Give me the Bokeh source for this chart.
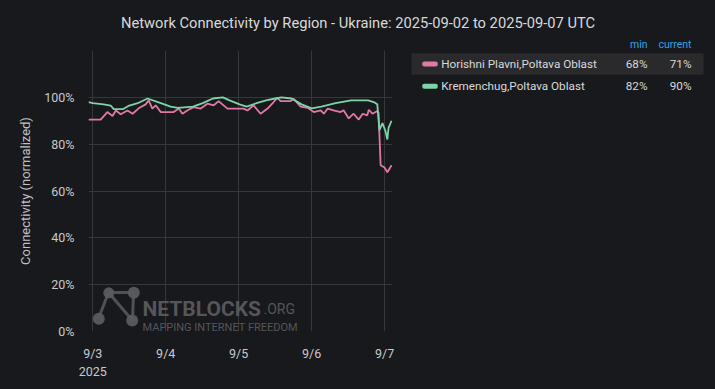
import pandas as pd
from bokeh.plotting import figure
from bokeh.layouts import column, row
from bokeh.models import FixedTicker, Range1d
from bokeh.core.properties import value
from bokeh.embed import file_html
from bokeh.resources import INLINE

TITLE = "Network Connectivity by Region - Ukraine: 2025-09-02 to 2025-09-07 UTC"
BASE = "2025-09-03 00:00"

# hours after 2025-09-03 00:00 UTC, connectivity %
red_hours = [-1.4, 2.6, 4.8, 6.5, 7.6, 9.2, 11.4, 13.1, 15.1, 17.4, 18.4, 19.6, 20.7, 22.4,
             26.6, 28.3, 29.5, 31.2, 33.2, 35.5, 37.7, 39.8, 41.4, 44.3, 49.6, 50.9, 52.9,
             55.2, 57.5, 59.5, 60.7, 61.8, 65.1, 66.1, 68.4, 70.7, 72.7, 75.0, 76.0, 77.3,
             79.2, 81.5, 82.5, 84.2, 85.8, 87.5, 88.8, 90.3, 90.8, 92.0, 93.6, 94.0, 94.7,
             96.0, 96.9, 97.6, 98.3]
red_vals = [90.5, 90.5, 93.7, 92.0, 94.4, 92.8, 94.4, 93.0, 95.3, 97.0, 98.7, 95.2, 96.6, 93.7,
            93.7, 95.2, 93.0, 94.5, 95.8, 95.2, 97.3, 96.6, 98.4, 95.2, 95.2, 94.4, 96.6,
            93.0, 95.2, 98.0, 99.8, 98.4, 98.4, 99.3, 96.0, 95.5, 93.7, 94.4, 93.0, 95.2,
            94.4, 93.7, 94.5, 91.0, 93.0, 90.5, 93.0, 92.3, 94.7, 93.0, 94.2, 93.5, 71.0,
            70.0, 68.0, 69.5, 71.0]

green_hours = [-1.4, 0.0, 3.6, 5.9, 6.9, 10.0, 12.0, 14.8, 18.0, 22.4, 25.6, 28.0, 33.0, 36.2,
               39.5, 42.8, 45.0, 48.3, 50.6, 53.9, 57.0, 60.0, 62.0, 65.4, 68.7, 72.0, 75.2,
               79.9, 85.0, 90.6, 92.4, 93.6, 94.3, 95.3, 96.3, 96.9, 97.3, 98.3]
green_vals = [98.0, 97.5, 97.0, 96.5, 95.0, 95.0, 96.5, 97.5, 99.5, 97.5, 96.0, 95.5, 96.0, 97.5,
              99.5, 100.0, 98.7, 97.0, 96.0, 97.5, 98.7, 99.5, 100.0, 99.5, 97.0, 95.3, 96.0,
              97.5, 98.7, 98.7, 98.0, 97.0, 86.0, 89.0, 85.5, 82.0, 87.0, 90.0]

series_names = ["Horishni Plavni,Poltava Oblast", "Kremenchug,Poltava Oblast"]
series_min = ["68%", "82%"]
series_current = ["71%", "90%"]
colors = ["#e07aa5", "#7fd3a8"]

x_tick_dates = ["2025-09-03", "2025-09-04", "2025-09-05", "2025-09-06", "2025-09-07"]
x_tick_labels = ["9/3\n2025", "9/4", "9/5", "9/6", "9/7"]
y_ticks = [0, 20, 40, 60, 80, 100, 120]
y_tick_labels = ["0%", "20%", "40%", "60%", "80%", "100%", ""]

BG = "#18191c"
TXT = "#d8d9da"
GRID = "#36373a"
FONT = "Roboto"

base = pd.Timestamp(BASE)
red_t = [base + pd.Timedelta(hours=h) for h in red_hours]
green_t = [base + pd.Timedelta(hours=h) for h in green_hours]

# ---- top strip: title + legend column headers (page-pixel coordinates)
tf = figure(width=715, height=50, x_range=Range1d(0, 715), y_range=Range1d(50, 0),
            toolbar_location=None, output_backend="svg", min_border=0,
            background_fill_color=BG, border_fill_color=BG, outline_line_color=None,
            title=None, x_axis_location=None, y_axis_location=None)
tf.grid.visible = False
tf.text(x=[357.5], y=[22], text=[TITLE], text_align="center", text_baseline="middle",
        text_font=value(FONT), text_font_size="14.7px", text_color=TXT)
tf.text(x=[647, 691], y=[44.3, 44.3], text=["min", "current"], text_baseline="middle",
        text_align="right", text_font=value(FONT), text_font_size="10.5px",
        text_color="#33a2e5")

# ---- chart
p = figure(width=400, height=339, x_axis_type="datetime", toolbar_location=None,
           output_backend="svg", background_fill_color=BG, border_fill_color=BG,
           outline_line_color=None, min_border_left=88, min_border_right=8,
           min_border_top=0, min_border_bottom=58, title=None)
p.x_range = Range1d(base + pd.Timedelta(hours=-1.4), base + pd.Timedelta(hours=98.6))
p.y_range = Range1d(0, 120)

xt = [pd.Timestamp(d).value / 1e6 for d in x_tick_dates]
p.xaxis.ticker = FixedTicker(ticks=xt)
p.xaxis.major_label_overrides = {t: l for t, l in zip(xt, x_tick_labels)}
p.yaxis.ticker = FixedTicker(ticks=y_ticks)
p.yaxis.major_label_overrides = {t: l for t, l in zip(y_ticks, y_tick_labels)}
for ax in (p.xaxis[0], p.yaxis[0]):
    ax.axis_line_color = None
    ax.major_tick_line_color = None
    ax.minor_tick_line_color = None
    ax.major_label_text_color = "#c8c9ca"
    ax.major_label_text_font = FONT
    ax.major_label_text_font_size = "12.5px"
p.xaxis.major_label_standoff = 8
p.yaxis.major_label_standoff = 8
p.yaxis.axis_label = "Connectivity (normalized)"
p.yaxis.axis_label_text_font = FONT
p.yaxis.axis_label_text_font_size = "13px"
p.yaxis.axis_label_text_font_style = "normal"
p.yaxis.axis_label_text_color = "#c0c1c2"
p.yaxis.axis_label_standoff = 8
p.grid.grid_line_color = GRID
p.grid.grid_line_width = 1

# watermark (page-pixel helper ranges)
p.extra_x_ranges = {"px": Range1d(88, 392)}
p.extra_y_ranges = {"py": Range1d(331, 50)}
wm = "#5a5b5f"
p.segment(x0=[98, 108, 108, 133], y0=[318, 292, 292, 292], x1=[108, 133, 132, 132],
          y1=[292, 292, 320, 320], line_color=wm, line_width=3, line_alpha=0.85,
          x_range_name="px", y_range_name="py")
p.scatter(x=[98.3, 108.3, 133.3, 131.7], y=[318.3, 292.3, 292.3, 320], size=[12, 11, 12, 12],
          fill_color=wm, line_color=None, fill_alpha=0.95, x_range_name="px", y_range_name="py")
p.text(x=[142], y=[308.5], text=["NETBLOCKS"], text_font=value(FONT), text_font_style="bold",
       text_font_size="21px", text_color=wm, text_alpha=0.95, text_baseline="alphabetic",
       x_range_name="px", y_range_name="py")
p.text(x=[263], y=[308.5], text=[".ORG"], text_font=value(FONT),
       text_font_size="14px", text_color=wm, text_alpha=0.95, text_baseline="alphabetic",
       x_range_name="px", y_range_name="py")
p.text(x=[142], y=[327], text=["MAPPING INTERNET FREEDOM"], text_font=value(FONT),
       text_font_size="11px", text_color=wm, text_alpha=0.95, text_baseline="alphabetic",
       x_range_name="px", y_range_name="py")

p.line(red_t, red_vals, line_color=colors[0], line_width=1.8)
p.line(green_t, green_vals, line_color=colors[1], line_width=1.8)

# ---- legend panel (page-pixel coordinates; frame aligned with the chart frame)
lg = figure(width=315, height=339, x_range=Range1d(400, 715), y_range=Range1d(331, 50),
            toolbar_location=None, output_backend="svg", min_border_left=0,
            min_border_right=0, min_border_top=0, min_border_bottom=58,
            background_fill_color=BG, border_fill_color=BG, outline_line_color=None,
            title=None, x_axis_location=None, y_axis_location=None)
lg.grid.visible = False
row_y = [63.5, 85.7]
lg.quad(left=[411], right=[703], top=[52.7], bottom=[74.3],
        fill_color="#2a2a2d", line_color=None)
lg.rect(x=[429.5, 429.5], y=row_y, width=15.5, height=5, fill_color=colors,
        line_color=None, border_radius=2)
lg.text(x=[440.7, 440.7], y=row_y, text=series_names, text_baseline="middle",
        text_font=value(FONT), text_font_size="11.7px", text_color=TXT)
lg.text(x=[647, 647], y=row_y, text=series_min, text_baseline="middle", text_align="right",
        text_font=value(FONT), text_font_size="11.7px", text_color=TXT)
lg.text(x=[691, 691], y=row_y, text=series_current, text_baseline="middle",
        text_align="right", text_font=value(FONT), text_font_size="11.7px", text_color=TXT)

layout = column(tf, row(p, lg), background=BG)
open("out.html", "w").write(file_html(layout, INLINE))
